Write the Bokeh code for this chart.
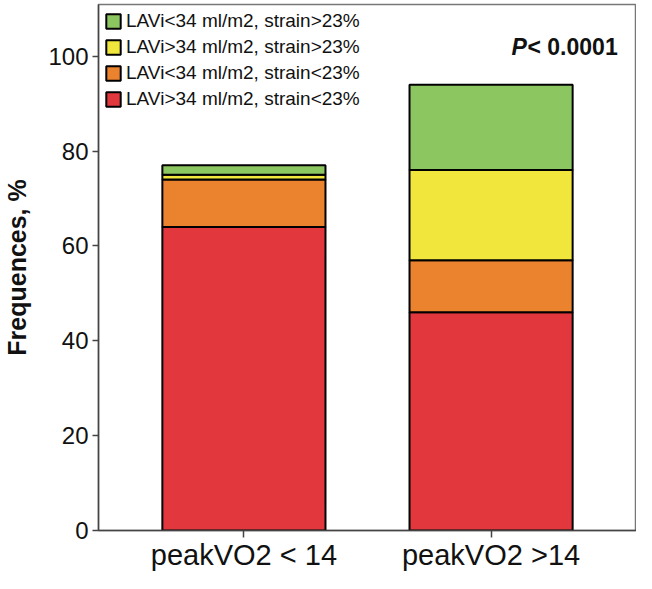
from bokeh.plotting import figure
from bokeh.models import (ColumnDataSource, FactorRange, Range1d, FixedTicker,
                          Legend, LegendItem, Label)
from bokeh.embed import file_html
from bokeh.resources import INLINE

# ---- data ----
categories = ["peakVO2 < 14", "peakVO2 >14"]
red_vals = [64, 46]      # LAVi>34 ml/m2, strain<23%
orange_vals = [10, 11]   # LAVi<34 ml/m2, strain<23%
yellow_vals = [1, 19]    # LAVi>34 ml/m2, strain>23%
green_vals = [2, 18]     # LAVi<34 ml/m2, strain>23%
series_names = ["red", "orange", "yellow", "green"]
series_labels = ["LAVi>34 ml/m2, strain<23%", "LAVi<34 ml/m2, strain<23%",
                 "LAVi>34 ml/m2, strain>23%", "LAVi<34 ml/m2, strain>23%"]
series_colors = ["#E2383D", "#EA822E", "#F0E63C", "#8CC660"]
y_ticks = [0, 20, 40, 60, 80, 100]
y_label = "Frequences, %"
p_text_1 = "P"
p_text_2 = "< 0.0001"

FONT = "Liberation Sans"

source = ColumnDataSource(dict(cat=categories, red=red_vals, orange=orange_vals,
                               yellow=yellow_vals, green=green_vals))

p = figure(width=636, height=573,
           x_range=FactorRange(*categories, range_padding=0.0884),
           y_range=Range1d(0, 110.9),
           output_backend="svg", toolbar_location=None,
           min_border_left=94, min_border_right=0,
           min_border_top=4, min_border_bottom=42)

p.xgrid.visible = False
p.ygrid.visible = False
p.outline_line_color = "#777777"
p.outline_line_width = 1.5
p.background_fill_color = "white"
p.border_fill_color = "white"

renderers = p.vbar_stack(series_names, x="cat", width=0.66, source=source,
                         fill_color=series_colors, line_color="black",
                         line_width=2)

# axes
for ax in (p.xaxis[0], p.yaxis[0]):
    ax.axis_line_color = "#444444"
    ax.axis_line_width = 1.5
    ax.major_tick_line_color = "#444444"
    ax.major_tick_line_width = 1.5
    ax.major_tick_in = 0
    ax.minor_tick_line_color = None
    ax.major_label_text_font = FONT
    ax.major_label_text_color = "#111111"

p.yaxis.ticker = FixedTicker(ticks=y_ticks)
p.yaxis.major_tick_out = 6
p.yaxis.major_label_standoff = 4
p.yaxis.major_label_text_font_size = "24px"
p.yaxis.axis_label = y_label
p.yaxis.axis_label_text_font = FONT
p.yaxis.axis_label_text_font_size = "25px"
p.yaxis.axis_label_text_font_style = "bold"
p.yaxis.axis_label_text_color = "#111111"
p.yaxis.axis_label_standoff = 14

p.xaxis.major_tick_out = 7
p.xaxis.major_label_standoff = 1
p.xaxis.major_label_text_font_size = "29px"

# legend (top to bottom: green, yellow, orange, red)
items = [LegendItem(label=series_labels[i], renderers=[renderers[i]])
         for i in reversed(range(len(series_names)))]
legend = Legend(items=items, location=(6, 420),
                border_line_color=None, background_fill_alpha=0,
                margin=0, padding=5, spacing=4,
                glyph_width=18, glyph_height=18, label_standoff=4,
                label_text_font=FONT, label_text_font_size="19px",
                label_text_color="#111111")
p.add_layout(legend)

# P value annotation
p.add_layout(Label(x=413, y=484, x_units="screen", y_units="screen",
                   text=p_text_1, text_font=FONT, text_font_size="23px",
                   text_font_style="bold italic", text_color="#111111",
                   text_baseline="alphabetic"))
p.add_layout(Label(x=429, y=484, x_units="screen", y_units="screen",
                   text=p_text_2, text_font=FONT, text_font_size="23px",
                   text_font_style="bold", text_color="#111111",
                   text_baseline="alphabetic"))

open("out.html", "w").write(file_html(p, INLINE))
